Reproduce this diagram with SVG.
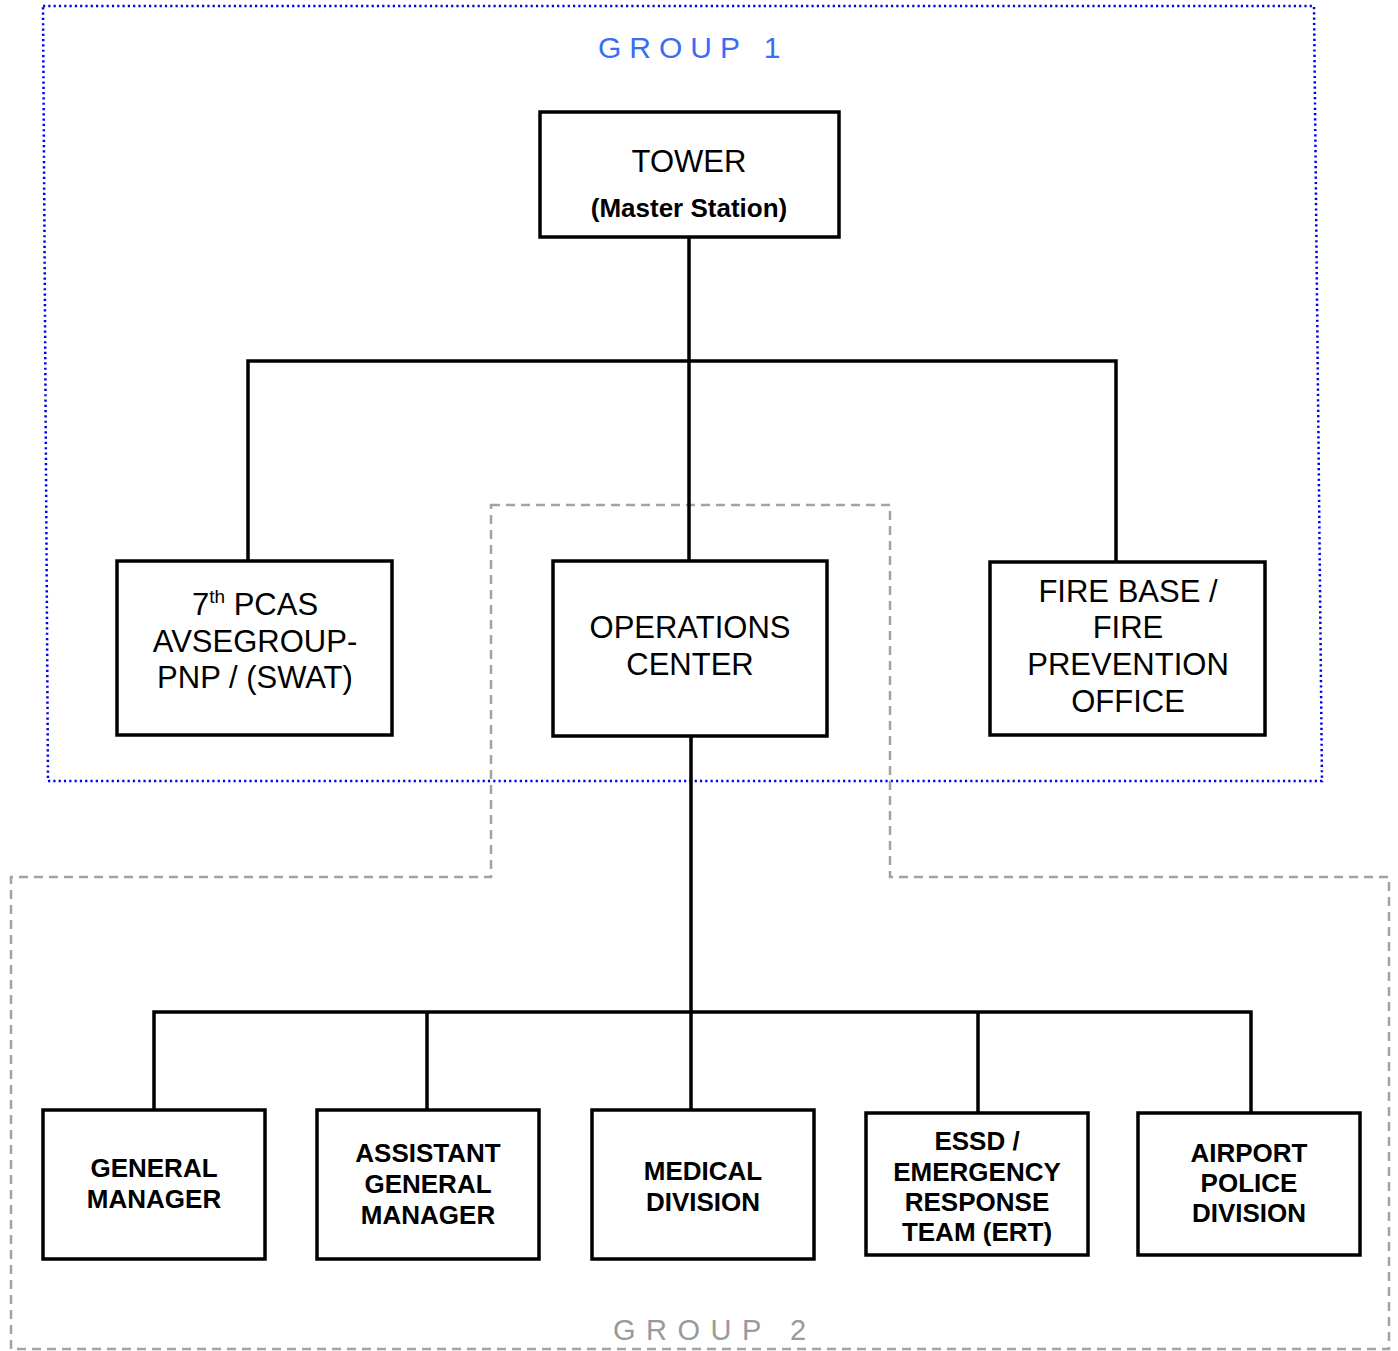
<svg xmlns="http://www.w3.org/2000/svg" width="1398" height="1351" viewBox="0 0 1398 1351">
  <style>
    .box { fill: #ffffff; stroke: #000000; stroke-width: 3.5; }
    .link { fill: none; stroke: #000000; stroke-width: 3.5; }
    .t { font-family: "Liberation Sans", Arial, sans-serif; font-size: 31px; fill: #000000; text-anchor: middle; }
    .b { font-family: "Liberation Sans", Arial, sans-serif; font-size: 26px; font-weight: bold; fill: #000000; text-anchor: middle; }
    .g1 { fill: none; stroke: #0000ee; stroke-width: 2.5; stroke-dasharray: 2.2 3.1; }
    .g2 { fill: none; stroke: #a3a3a3; stroke-width: 2.5; stroke-dasharray: 9 6; }
    .label1 { font-family: "Liberation Sans", Arial, sans-serif; font-size: 30px; fill: #3b6cf6; letter-spacing: 8px; }
    .label2 { font-family: "Liberation Sans", Arial, sans-serif; font-size: 29px; fill: #9a9a9a; letter-spacing: 10.5px; }
  </style>
  <rect width="1398" height="1351" fill="#ffffff"/>

  <!-- group boundaries -->
  <g id="group1">
    <polygon class="g1" points="43,6 1314,6 1322,781 48,781"/>
    <text class="label1" x="598" y="58">GROUP 1</text>
  </g>
  <g id="group2">
    <polygon class="g2" points="491,505 890,505 890,877 1389,877 1389,1349 11,1349 11,877 491,877"/>
    <text class="label2" x="613" y="1340">GROUP 2</text>
  </g>

  <!-- connectors -->
  <g id="connectors">
    <path class="link" d="M689,237 V561 M248,561 V361 H1116 V561"/>
    <path class="link" d="M691,736 V1110 M154,1110 V1012 H1251 V1113 M427,1012 V1110 M978,1012 V1113"/>
  </g>

  <!-- nodes -->
  <g id="tower">
    <rect class="box" x="540" y="112" width="299" height="125"/>
    <text class="t" x="689" y="172">TOWER</text>
    <text class="b" x="689" y="217">(Master Station)</text>
  </g>
  <g id="pcas">
    <rect class="box" x="117" y="561" width="275" height="174"/>
    <text class="t" x="255" y="615">7<tspan font-size="19" dy="-12">th</tspan><tspan dy="12"> PCAS</tspan></text>
    <text class="t" x="255" y="652">AVSEGROUP-</text>
    <text class="t" x="255" y="688">PNP / (SWAT)</text>
  </g>
  <g id="operations">
    <rect class="box" x="553" y="561" width="274" height="175"/>
    <text class="t" x="690" y="638">OPERATIONS</text>
    <text class="t" x="690" y="675">CENTER</text>
  </g>
  <g id="firebase">
    <rect class="box" x="990" y="562" width="275" height="173"/>
    <text class="t" x="1128" y="602">FIRE BASE /</text>
    <text class="t" x="1128" y="638">FIRE</text>
    <text class="t" x="1128" y="675">PREVENTION</text>
    <text class="t" x="1128" y="712">OFFICE</text>
  </g>
  <g id="general-manager">
    <rect class="box" x="43" y="1110" width="222" height="149"/>
    <text class="b" x="154" y="1177">GENERAL</text>
    <text class="b" x="154" y="1208">MANAGER</text>
  </g>
  <g id="assistant-gm">
    <rect class="box" x="317" y="1110" width="222" height="149"/>
    <text class="b" x="428" y="1162">ASSISTANT</text>
    <text class="b" x="428" y="1193">GENERAL</text>
    <text class="b" x="428" y="1224">MANAGER</text>
  </g>
  <g id="medical">
    <rect class="box" x="592" y="1110" width="222" height="149"/>
    <text class="b" x="703" y="1180">MEDICAL</text>
    <text class="b" x="703" y="1211">DIVISION</text>
  </g>
  <g id="essd">
    <rect class="box" x="866" y="1113" width="222" height="142"/>
    <text class="b" x="977" y="1150">ESSD /</text>
    <text class="b" x="977" y="1181">EMERGENCY</text>
    <text class="b" x="977" y="1211">RESPONSE</text>
    <text class="b" x="977" y="1241">TEAM (ERT)</text>
  </g>
  <g id="airport-police">
    <rect class="box" x="1138" y="1113" width="222" height="142"/>
    <text class="b" x="1249" y="1162">AIRPORT</text>
    <text class="b" x="1249" y="1192">POLICE</text>
    <text class="b" x="1249" y="1222">DIVISION</text>
  </g>
</svg>
